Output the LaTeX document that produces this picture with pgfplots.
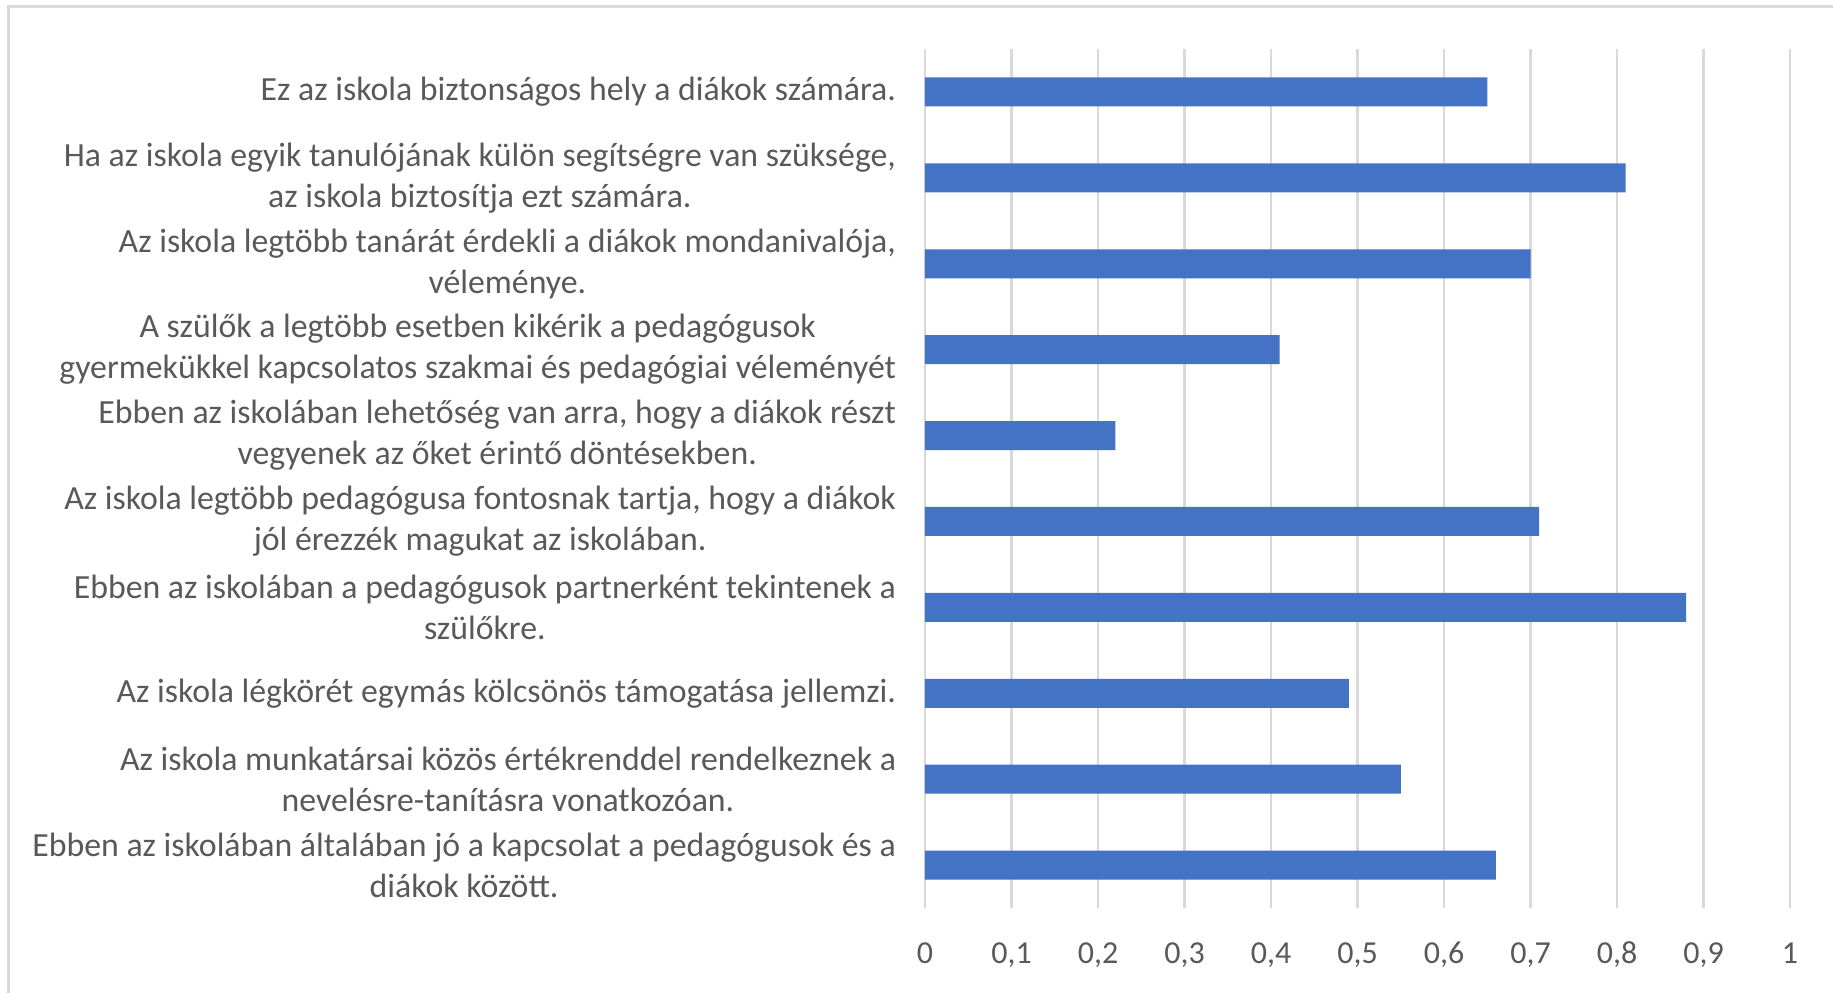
\documentclass[border=0pt]{standalone}
\usepackage{pgfplots}
\pgfplotsset{compat=1.18}
\usepackage{fontspec}
\setmainfont{Carlito}
\definecolor{barblue}{HTML}{4472C4}
\definecolor{gridgray}{HTML}{D9D9D9}
\definecolor{txtgray}{HTML}{595959}
\begin{document}
\begin{tikzpicture}
\useasboundingbox (0,0) rectangle (916.5pt,496pt);
\draw[color=gridgray, line width=1.5pt] (4pt,-20pt) -- (4pt,492.5pt) -- (940pt,492.5pt);
\begin{axis}[
  at={(462.5pt,42pt)}, anchor=south west,
  scale only axis, width=432.5pt, height=429.5pt,
  xbar, bar width=14.5pt,
  xmin=0, xmax=1,
  ymin=0.5, ymax=10.5, y dir=reverse,
  xtick={0,0.1,...,1.01},
  xticklabels={0,{0,1},{0,2},{0,3},{0,4},{0,5},{0,6},{0,7},{0,8},{0,9},1},
  ytick={1,...,10},
  yticklabels={
    {Ez az iskola biztonságos hely a diákok számára.},
    {Ha az iskola egyik tanulójának külön segítségre van szüksége,\\az iskola biztosítja ezt számára.},
    {Az iskola legtöbb tanárát érdekli a diákok mondanivalója,\\véleménye.},
    {A szülők a legtöbb esetben kikérik a pedagógusok\\gyermekükkel kapcsolatos szakmai és pedagógiai véleményét},
    {Ebben az iskolában lehetőség van arra, hogy a diákok részt\\vegyenek az őket érintő döntésekben.},
    {Az iskola legtöbb pedagógusa fontosnak tartja, hogy a diákok\\jól érezzék magukat az iskolában.},
    {Ebben az iskolában a pedagógusok partnerként tekintenek a\\szülőkre.},
    {Az iskola légkörét egymás kölcsönös támogatása jellemzi.},
    {Az iskola munkatársai közös értékrenddel rendelkeznek a\\nevelésre-tanításra vonatkozóan.},
    {Ebben az iskolában általában jó a kapcsolat a pedagógusok és a\\diákok között.}
  },
  axis line style={draw=none},
  major tick length=0pt,
  xmajorgrids,
  grid style={color=gridgray, line width=1.2pt},
  xticklabel style={font=\fontsize{16}{20.5}\selectfont, text=txtgray, anchor=base, yshift=-27.5pt},
  yticklabel style={font=\fontsize{16.9}{20.5}\selectfont, text=txtgray, align=center, anchor=east, xshift=-11pt},
  clip=false,
]
\addplot[fill=barblue, draw=none] coordinates {
  (0.65,1) (0.81,2) (0.70,3) (0.41,4) (0.22,5)
  (0.71,6) (0.88,7) (0.49,8) (0.55,9) (0.66,10)
};
\end{axis}
\end{tikzpicture}
\end{document}
